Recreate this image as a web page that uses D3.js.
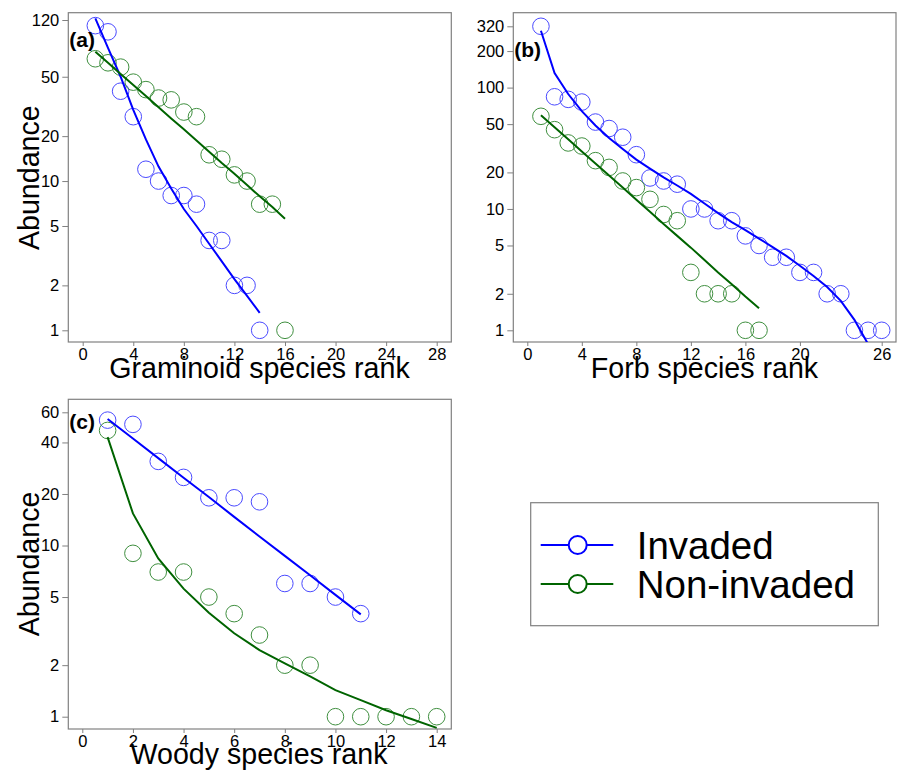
<!DOCTYPE html>
<html>
<head>
<meta charset="utf-8">
<script src="https://cdn.jsdelivr.net/npm/d3@7"></script>
<style>
  body { margin: 0; background: #fff; }
  svg { display: block; font-family: "Liberation Sans", Arial, sans-serif; }
</style>
</head>
<body>
<svg width="906" height="770"></svg>
<script>
// abundance by species rank (rank = index + 1)
const gramInvaded = [110, 100, 40, 27, 12, 10, 8, 8, 7, 4, 4, 2, 2, 1];
const gramNonInvaded = [66, 62, 58, 46, 41, 36, 35, 29, 27, 15, 14, 11, 10, 7, 7, 1];
const gramInvadedFit = [123, 78, 50, 30, 19, 12.5, 8.9, 6.5, 5, 3.8, 2.9, 2.2, 1.7, 1.31];
const gramNonInvadedFit = [73.6, 62, 52.2, 44, 37.1, 31.2, 26.3, 22.2, 18.7, 15.7, 13.2, 11.2, 9.4, 7.9, 6.7, 5.6];

const forbInvaded = [320, 84, 80, 76, 52, 46, 39, 28, 18, 17, 16, 10, 10, 8, 8, 6, 5, 4, 4, 3, 3, 2, 2, 1, 1, 1];
const forbNonInvaded = [58, 45, 35, 33, 25, 22, 17, 15, 12, 9, 8, 3, 2, 2, 2, 1, 1];
const forbInvadedFit = [294, 132, 88.5, 64, 48.7, 38.5, 31.2, 25.5, 21.5, 18.2, 15.6, 13.3, 11.1, 9.25, 7.8, 6.7, 5.7, 4.85, 4.1, 3.4, 2.8, 2.27, 1.75, 1.22, 0.77];
const forbNonInvadedFit = [59.3, 47.2, 37.5, 29.8, 23.7, 18.9, 15, 11.9, 9.5, 7.5, 6, 4.8, 3.8, 3, 2.4, 1.9, 1.52];

const woodyInvaded = [54, 51, 31, 25, 19, 19, 18, 6, 6, 5, 4];
const woodyNonInvaded = [47, 9, 7, 7, 5, 4, 3, 2, 2, 1, 1, 1, 1, 1];
const woodyInvadedFit = [54.8, 42.2, 32.4, 24.9, 19.2, 14.7, 11.3, 8.7, 6.7, 5.15, 3.96];
const woodyNonInvadedFit = [43, 15.4, 8.4, 5.6, 4.05, 3.07, 2.45, 2.05, 1.72, 1.43, 1.25, 1.09, 0.97, 0.86];

const gramXTicks = [0, 4, 8, 12, 16, 20, 24, 28];
const gramYTicks = [1, 2, 5, 10, 20, 50, 120];
const forbXTicks = [0, 4, 8, 12, 16, 20, 26];
const forbYTicks = [1, 2, 5, 10, 20, 50, 100, 200, 320];
const woodyXTicks = [0, 2, 4, 6, 8, 10, 12, 14];
const woodyYTicks = [1, 2, 5, 10, 20, 40, 60];

const seriesNames = ["Invaded", "Non-invaded"];
const lineColours = ["#0000ff", "#006400"];
const pointColours = ["#4a4aff", "#3f8f3f"];

const svg = d3.select("svg");
const grey = "#808080";
const fontStack = "Liberation Sans, Arial, sans-serif";

function drawPanel(p) {
	const g = svg.append("g");

	// scales: x anchored on two tick positions, y log anchored on two ticks
	const x = d3.scaleLinear().domain(p.xAnchor).range(p.xPix);
	const y = d3.scaleLog().domain(p.yAnchor).range(p.yPix);

	const clipId = "clip-" + p.id;
	svg.append("clipPath").attr("id", clipId)
		.append("rect")
		.attr("x", p.box[0]).attr("y", p.box[1])
		.attr("width", p.box[2] - p.box[0]).attr("height", p.box[3] - p.box[1]);

	// y axis
	const yAxis = g.append("g")
		.attr("transform", `translate(${p.box[0]},0)`)
		.call(d3.axisLeft(y).tickValues(p.yTicks).tickFormat(d3.format("d")).tickSize(6).tickPadding(3));
	yAxis.select(".domain").remove();
	yAxis.attr("font-size", null).attr("font-family", null);
	yAxis.selectAll("line").attr("stroke", grey);
	yAxis.selectAll("text").style("font-size", "16.5px").attr("fill", "#000")
		.style("font-family", fontStack);

	// x axis
	const xAxis = g.append("g")
		.attr("transform", `translate(0,${p.box[3]})`)
		.call(d3.axisBottom(x).tickValues(p.xTicks).tickSize(4).tickPadding(2));
	xAxis.select(".domain").remove();
	xAxis.attr("font-size", null).attr("font-family", null);
	xAxis.selectAll("line").attr("stroke", grey);
	xAxis.selectAll("text").style("font-size", "16.5px").attr("fill", "#000")
		.style("font-family", fontStack);

	// plot frame
	g.append("rect")
		.attr("x", p.box[0]).attr("y", p.box[1])
		.attr("width", p.box[2] - p.box[0]).attr("height", p.box[3] - p.box[1])
		.attr("fill", "none").attr("stroke", grey).attr("stroke-width", 1.2);

	const plot = g.append("g").attr("clip-path", `url(#${clipId})`);

	// points
	p.points.forEach((vals, i) => {
		plot.append("g").selectAll("circle")
			.data(vals)
			.enter().append("circle")
			.attr("cx", (d, k) => x(k + 1))
			.attr("cy", d => y(d))
			.attr("r", 8.3)
			.attr("fill", "none")
			.attr("stroke", pointColours[i])
			.attr("stroke-width", 1);
	});

	// fitted lines
	const line = d3.line().x((d, k) => x(k + 1)).y(d => y(d));
	p.fits.forEach((vals, i) => {
		plot.append("path")
			.datum(vals)
			.attr("d", line)
			.attr("fill", "none")
			.attr("stroke", lineColours[i])
			.attr("stroke-width", 2);
	});

	// panel letter
	g.append("text")
		.attr("x", p.box[0] + 1).attr("y", p.labelY)
		.attr("font-size", 21).attr("font-weight", "bold")
		.text(p.label);

	// axis titles
	g.append("text")
		.attr("x", p.xTitle[0]).attr("y", p.xTitle[1])
		.attr("text-anchor", "middle").attr("font-size", 28.6)
		.text(p.xTitleText);

	if (p.yTitle) {
		g.append("text")
			.attr("transform", `translate(${p.yTitle[0]},${p.yTitle[1]}) rotate(-90)`)
			.attr("text-anchor", "middle").attr("font-size", 28.6)
			.text("Abundance");
	}
}

drawPanel({
	id: "a", label: "(a)", labelY: 47,
	box: [68.3, 12.7, 451.3, 342],
	xAnchor: [0, 28], xPix: [82.7, 436.7],
	yAnchor: [1, 120], yPix: [330.3, 20],
	xTicks: gramXTicks, yTicks: gramYTicks,
	points: [gramInvaded, gramNonInvaded],
	fits: [gramInvadedFit, gramNonInvadedFit],
	xTitle: [259.5, 377.5], xTitleText: "Graminoid species rank",
	yTitle: [38.5, 177.7]
});

drawPanel({
	id: "b", label: "(b)", labelY: 57,
	box: [513.3, 12.7, 896, 342],
	xAnchor: [0, 26], xPix: [527.3, 881.7],
	yAnchor: [1, 320], yPix: [330.3, 26.3],
	xTicks: forbXTicks, yTicks: forbYTicks,
	points: [forbInvaded, forbNonInvaded],
	fits: [forbInvadedFit, forbNonInvadedFit],
	xTitle: [704.5, 377.5], xTitleText: "Forb species rank",
	yTitle: null
});

drawPanel({
	id: "c", label: "(c)", labelY: 429,
	box: [68.3, 399.3, 451.3, 729],
	xAnchor: [0, 14], xPix: [82.3, 436.7],
	yAnchor: [1, 60], yPix: [716.7, 412.3],
	xTicks: woodyXTicks, yTicks: woodyYTicks,
	points: [woodyInvaded, woodyNonInvaded],
	fits: [woodyInvadedFit, woodyNonInvadedFit],
	xTitle: [259, 763.5], xTitleText: "Woody species rank",
	yTitle: [38.5, 564]
});

// legend
const legend = svg.append("g");
legend.append("rect")
	.attr("x", 530.7).attr("y", 502.7).attr("width", 347.6).attr("height", 123)
	.attr("fill", "none").attr("stroke", grey).attr("stroke-width", 1.2);

const legendY = d3.scalePoint().domain(seriesNames).range([545, 584]);
seriesNames.forEach((name, i) => {
	const yy = legendY(name);
	legend.append("line")
		.attr("x1", 540.7).attr("x2", 613.3).attr("y1", yy).attr("y2", yy)
		.attr("stroke", lineColours[i]).attr("stroke-width", 2);
	legend.append("circle")
		.attr("cx", 577.7).attr("cy", yy).attr("r", 9)
		.attr("fill", "#fff").attr("stroke", lineColours[i]).attr("stroke-width", 2);
	legend.append("text")
		.attr("x", 636.7).attr("y", yy + 14)
		.attr("font-size", 38.5)
		.text(name);
});
</script>
</body>
</html>
